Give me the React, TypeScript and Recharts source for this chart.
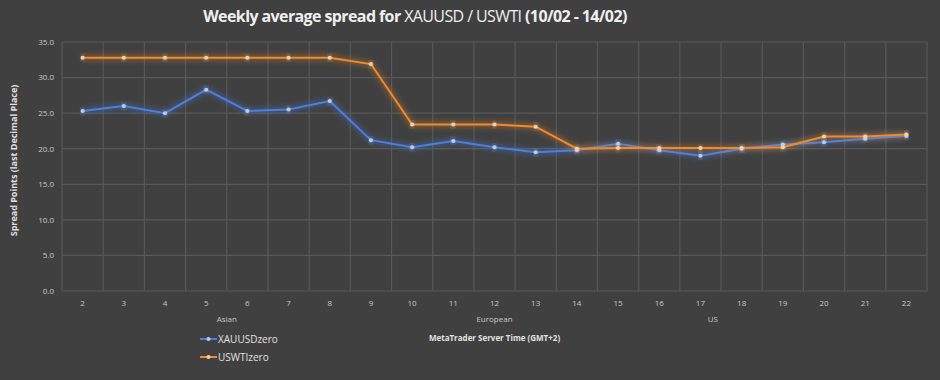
import {
  CartesianGrid,
  Legend,
  Line,
  LineChart,
  XAxis,
  YAxis
} from 'recharts';

const hours = [2, 3, 4, 5, 6, 7, 8, 9, 10, 11, 12, 13, 14, 15, 16, 17, 18, 19, 20, 21, 22];
const xauusdZero = [25.3, 26.0, 25.0, 28.3, 25.3, 25.5, 26.7, 21.2, 20.2, 21.1, 20.2, 19.5, 19.8, 20.7, 19.8, 19.0, 20.0, 20.6, 20.9, 21.4, 21.8];
const uswtiZero = [32.8, 32.8, 32.8, 32.8, 32.8, 32.8, 32.8, 31.9, 23.4, 23.4, 23.4, 23.1, 20.0, 20.1, 20.1, 20.1, 20.1, 20.2, 21.7, 21.7, 22.0];
const yTicks = [0, 5, 10, 15, 20, 25, 30, 35];
const sessionNames = ['Asian', 'European', 'US'];
const sessionCenters = [5.5, 12, 17.3];

const data = hours.map((h, i) => ({
  hour: h,
  XAUUSDzero: xauusdZero[i],
  USWTIzero: uswtiZero[i]
}));

const BLUE = '#4a7fe0';
const ORANGE = '#f08a2c';
const tickStyle = { fill: '#c8c8c8', fontSize: 8, fontFamily: 'Open Sans' };
const halfBand = 865 / hours.length / 2;

const LegendBox = () => (
  <div style={{ fontFamily: 'Open Sans', fontSize: 10, color: '#e0e0e0' }}>
    {[
      { name: 'XAUUSDzero', color: BLUE, dot: '#b8cdf5' },
      { name: 'USWTIzero', color: ORANGE, dot: '#fad0a6' }
    ].map((s) => (
      <div key={s.name} style={{ display: 'flex', alignItems: 'center', height: 18 }}>
        <svg width={17} height={6} style={{ marginRight: 1 }}>
          <line x1={0} y1={3} x2={17} y2={3} stroke={s.color} strokeWidth={2} />
          <circle cx={8.5} cy={3} r={2} fill={s.dot} />
        </svg>
        {s.name}
      </div>
    ))}
  </div>
);

const App = () => {
  return (
    <div style={{ position: 'absolute', left: 0, top: 0, width: 940, height: 380, background: '#404040' }}>
      <div style={{
        position: 'absolute', left: 0, width: 830, top: 5, textAlign: 'center',
        fontFamily: 'Open Sans', fontSize: 16, letterSpacing: -0.6, color: '#efefef'
      }}>
        <b>Weekly average spread for </b>XAUUSD / USWTI <b>(10/02 - 14/02)</b>
      </div>
      <LineChart width={940} height={380} data={data} margin={{ top: 42, right: 13, bottom: 44, left: 0 }}>
        <defs>
          <filter id="glow" x="-10%" y="-50%" width="120%" height="200%">
            <feGaussianBlur stdDeviation="3" result="blur" />
            <feMerge>
              <feMergeNode in="blur" />
              <feMergeNode in="SourceGraphic" />
            </feMerge>
          </filter>
        </defs>
        <CartesianGrid
          stroke="#585858"
          strokeWidth={1.2}
          verticalCoordinatesGenerator={({ offset }: any) =>
            Array.from({ length: hours.length + 1 }, (_, i) => offset.left + (i * offset.width) / hours.length)
          }
        />
        <XAxis
          dataKey="hour"
          axisLine={false}
          tickLine={false}
          tick={tickStyle}
          tickMargin={3}
          height={16}
          interval={0}
          padding={{ left: halfBand, right: halfBand }}
        />
        <XAxis
          xAxisId="session"
          dataKey="hour"
          type="number"
          domain={[1.5, 22.5]}
          ticks={sessionCenters}
          tickFormatter={(v: number) => sessionNames[sessionCenters.indexOf(v)]}
          axisLine={false}
          tickLine={false}
          tick={tickStyle}
          tickMargin={3}
          height={29}
          label={{
            value: 'MetaTrader Server Time (GMT+2)',
            position: 'insideBottom',
            offset: -5,
            fill: '#e0e0e0',
            fontSize: 8,
            fontWeight: 'bold',
            fontFamily: 'Open Sans'
          }}
        />
        <YAxis
          width={62}
          domain={[0, 35]}
          ticks={yTicks}
          tickFormatter={(v: number) => v.toFixed(1)}
          axisLine={false}
          tickLine={false}
          tick={tickStyle}
          label={{
            value: 'Spread Points  (last Decimal Place)',
            angle: -90,
            position: 'insideLeft',
            offset: 14,
            dy: -6,
            fill: '#e0e0e0',
            fontSize: 9,
            fontWeight: 'bold',
            fontFamily: 'Open Sans',
            style: { textAnchor: 'middle' }
          }}
        />
        <Legend
          layout="vertical"
          align="center"
          verticalAlign="middle"
          content={() => <LegendBox />}
          wrapperStyle={{ left: 200, top: 330, width: 'auto' }}
        />
        <Line
          dataKey="XAUUSDzero"
          stroke={BLUE}
          strokeWidth={2}
          filter="url(#glow)"
          dot={{ r: 2, fill: '#b8cdf5', stroke: 'none' }}
          isAnimationActive={false}
        />
        <Line
          dataKey="USWTIzero"
          stroke={ORANGE}
          strokeWidth={2}
          filter="url(#glow)"
          dot={{ r: 2, fill: '#fad0a6', stroke: 'none' }}
          isAnimationActive={false}
        />
      </LineChart>
    </div>
  );
};

export default App;
